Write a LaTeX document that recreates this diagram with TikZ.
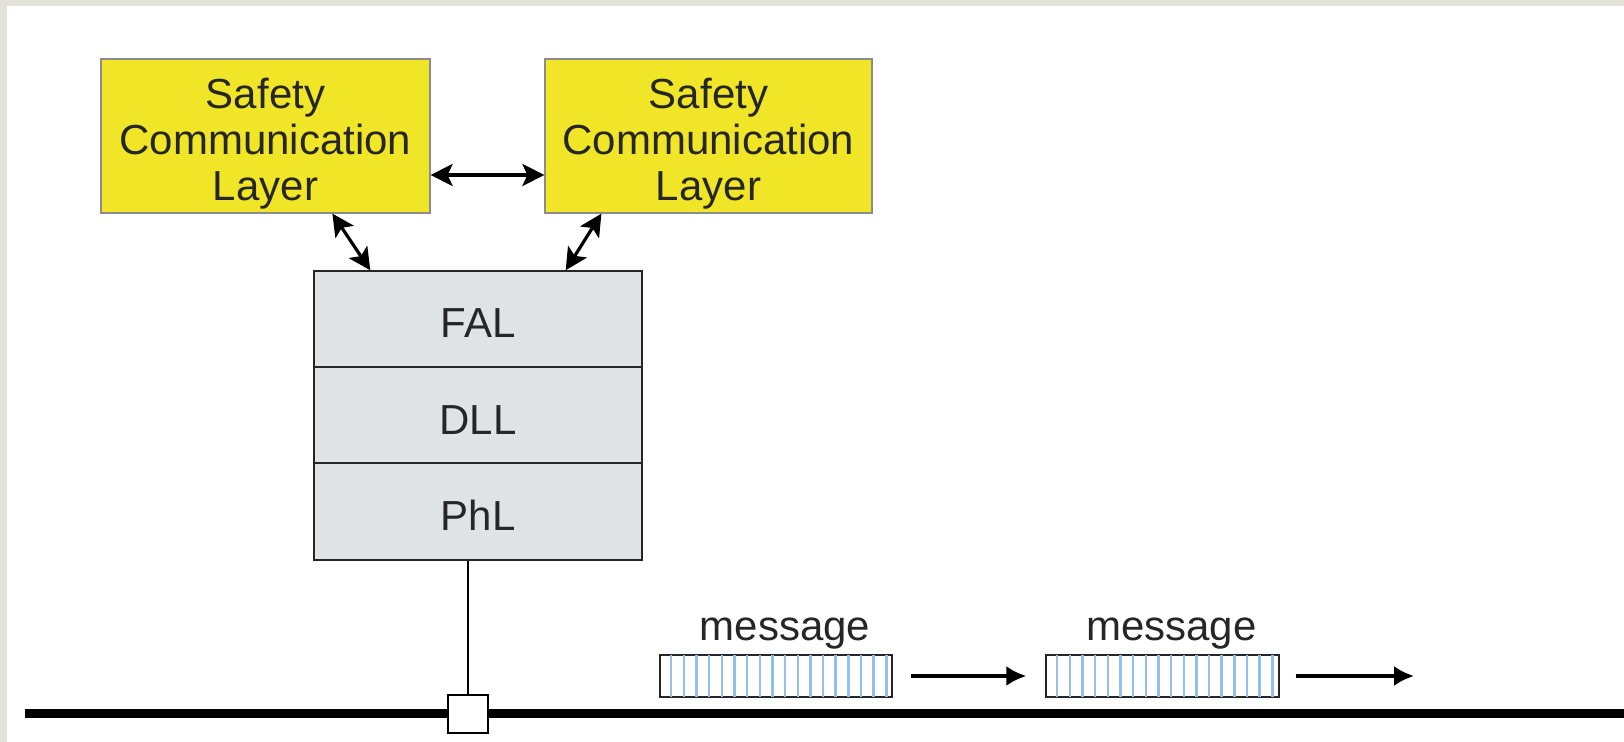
\documentclass[tikz,border=0pt]{standalone}
\usepackage{fontspec}
\setmainfont{Liberation Sans}
\usetikzlibrary{arrows.meta}
\definecolor{bgbeige}{HTML}{E4E1D8}
\definecolor{sclyellow}{HTML}{F0E627}
\definecolor{sclborder}{HTML}{8C8C8C}
\definecolor{stackgray}{HTML}{E1E2E4}
\definecolor{txt}{HTML}{262626}
\definecolor{stripe}{HTML}{92C0EA}
\tikzset{
  px/.style={x=0.5pt,y=-0.5pt},
  sclbox/.style={draw=sclborder,line width=0.6pt,fill=sclyellow,minimum width=164.5pt,minimum height=77pt,inner sep=0pt},
  scltext/.style={align=center,inner sep=0pt,text=txt,font=\fontsize{21}{23}\selectfont},
  layerbox/.style={draw=black!85,line width=0.7pt,fill=stackgray,minimum width=164pt,minimum height=48pt,inner sep=0pt},
  layertext/.style={inner sep=0pt,text=txt,font=\fontsize{21}{23}\selectfont},
  msgbox/.style={draw=black!85,line width=0.7pt,minimum width=116pt,minimum height=21pt,inner sep=0pt},
  msglabel/.style={text=txt,font=\fontsize{21}{23}\selectfont,anchor=base,inner sep=0pt},
  dblarrow/.style={line width=1.6pt,{Stealth[length=11pt,width=11pt,inset=2.5pt]}-{Stealth[length=11pt,width=11pt,inset=2.5pt]}},
  flowarrow/.style={line width=1.7pt,-{Latex[length=10pt,width=10pt]}},
  tapbox/.style={draw=black,line width=0.8pt,fill=white,minimum width=20pt,minimum height=19pt,inner sep=0pt},
}
\begin{document}
\begin{tikzpicture}[px]
\useasboundingbox (0,0) rectangle (1624,742);
\fill[bgbeige] (0,0) rectangle (1624,742);
\fill[white] (7,6) rectangle (1624,742);

\node[sclbox] (scl1) at (265.5,136) {};
\node[scltext] (scl1t) at ([yshift=-3.6pt]scl1.center) {Safety\\Communication\\Layer};
\node[sclbox,minimum width=163.5pt] (scl2) at (708.5,136) {};
\node[scltext] (scl2t) at ([yshift=-3.6pt]scl2.center) {Safety\\Communication\\Layer};

\node[layerbox] (fal) at (478,319) {};
\node[layerbox] (dll) at (478,415) {};
\node[layerbox,minimum height=48.5pt] (phl) at (478,511.5) {};
\node[layertext] (falt) at ([yshift=-1.8pt]fal.center) {FAL};
\node[layertext] (dllt) at ([yshift=-2.4pt]dll.center) {DLL};
\node[layertext] (phlt) at ([yshift=-2pt]phl.center) {PhL};

\draw[dblarrow] ([yshift=-19.5pt]scl1.east) -- ([yshift=-19.5pt]scl2.west);
\draw[dblarrow] ([xshift=116pt]scl1.south west) -- ([xshift=28.5pt]fal.north west);
\draw[dblarrow] ([xshift=28.5pt]scl2.south west) -- ([xshift=-38.5pt]fal.north east);

\coordinate (busL) at (25,713.5);
\coordinate (busR) at (1624,713.5);
\draw[line width=4.5pt] (busL) -- (busR);

\node[tapbox] (tap) at (468,714) {};
\draw[line width=0.8pt] ([xshift=-5pt]phl.south) -- (tap.north);

\node[msgbox] (msg1) at (776,676) {};
\node[msgbox,minimum width=116.5pt] (msg2) at (1162.5,676) {};
\foreach \m in {msg1,msg2}{
  \foreach \k in {0,...,17}{
    \draw[stripe,line width=1.2pt] ([xshift={(5.9+\k*6.33)*1pt},yshift=-0.4pt]\m.north west) -- ([xshift={(5.9+\k*6.33)*1pt},yshift=0.4pt]\m.south west);
  }
  \draw[black!85,line width=0.7pt] (\m.north west) rectangle (\m.south east);
}
\node[msglabel] (lab1) at ([xshift=4.5pt,yshift=7pt]msg1.north) {message};
\node[msglabel] (lab2) at ([xshift=4.5pt,yshift=7pt]msg2.north) {message};

\coordinate (arrowEnd) at (1414,676);
\draw[flowarrow] ([xshift=9pt]msg1.east) -- ([xshift=-9.5pt]msg2.west);
\draw[flowarrow] ([xshift=8pt]msg2.east) -- (arrowEnd);
\end{tikzpicture}
\end{document}
